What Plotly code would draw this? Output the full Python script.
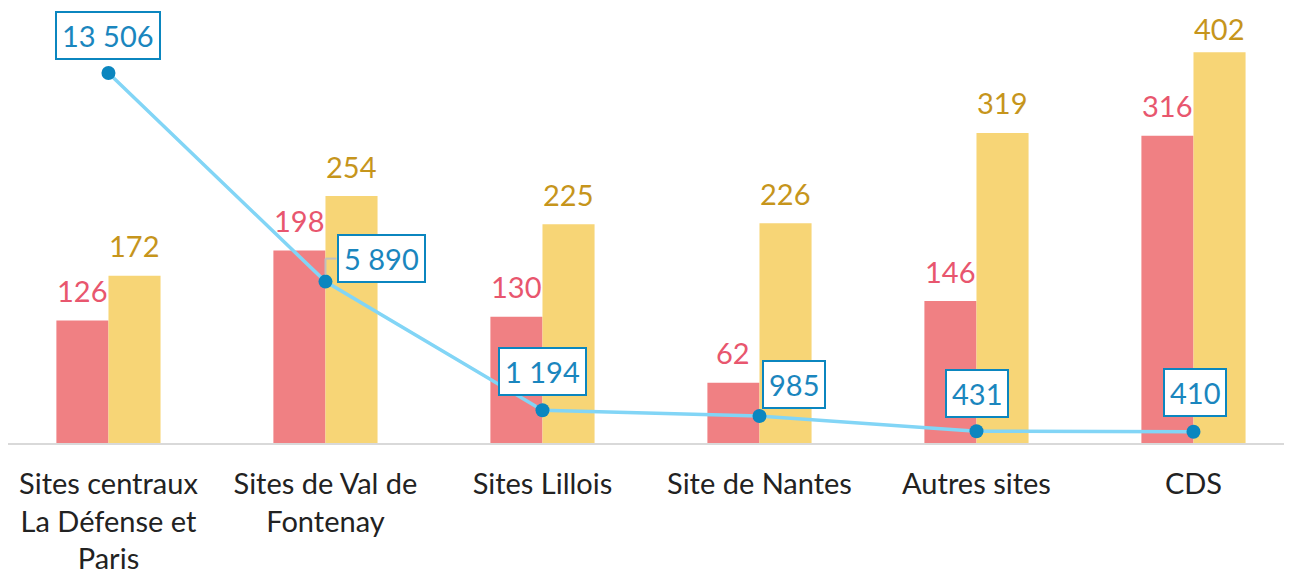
import plotly.graph_objects as go

categories = ["Sites centraux<br>La Défense et<br>Paris", "Sites de Val de<br>Fontenay",
              "Sites Lillois", "Site de Nantes", "Autres sites", "CDS"]
red_values = [126, 198, 130, 62, 146, 316]
yellow_values = [172, 254, 225, 226, 319, 402]
line_values = [13506, 5890, 1194, 985, 431, 410]
line_labels = ["13 506", "5 890", "1 194", "985", "431", "410"]

FONT = "Lato"
RED = "#F08083"
YELLOW = "#F7D576"
RED_TXT = "#E8566E"
YEL_TXT = "#C6951C"
LINE = "#82D5F6"
DOT = "#0B86BF"

Y_MAX = 447.5
Y2_MAX = 15876
PLOT_H = 435.0

fig = go.Figure()
fig.add_trace(go.Bar(x=categories, y=red_values, marker_color=RED, marker_line_width=0, hoverinfo="skip"))
fig.add_trace(go.Bar(x=categories, y=yellow_values, marker_color=YELLOW, marker_line_width=0, hoverinfo="skip"))
fig.add_trace(go.Scatter(x=categories, y=line_values, yaxis="y2", mode="lines+markers",
                         line=dict(color=LINE, width=3.5),
                         marker=dict(color=DOT, size=14), hoverinfo="skip"))

annotations = []
for c, v in zip(categories, red_values):
    annotations.append(dict(x=c, y=v, xref="x", yref="y", text=str(v), showarrow=False,
                            xshift=-26, yshift=30,
                            font=dict(family=FONT, size=29, color=RED_TXT)))
for c, v in zip(categories, yellow_values):
    # keep the label fully inside the page near the top edge
    px_from_top = (Y_MAX - v) * PLOT_H / Y_MAX
    annotations.append(dict(x=c, y=v, xref="x", yref="y", text=str(v), showarrow=False,
                            xshift=26, yshift=min(30, px_from_top - 20),
                            font=dict(family=FONT, size=29, color=YEL_TXT)))
shifts = [(0, 37), (56, 23), (0, 39), (35, 32), (1, 38), (2, 39)]
for c, v, t, (dx, dy) in zip(categories, line_values, line_labels, shifts):
    annotations.append(dict(x=c, y=v, xref="x", yref="y2", text=t, showarrow=False,
                            xshift=dx, yshift=dy, bgcolor="white", bordercolor=DOT,
                            borderwidth=2, borderpad=5,
                            font=dict(family=FONT, size=29, color="#1A86BE")))

# small grey leader line for the "5 890" label
px2 = Y2_MAX / PLOT_H  # data units per pixel on y2
lead_y0 = line_values[1] + 7 * px2
lead_y1 = line_values[1] + 23 * px2
fig.add_shape(type="line", xref="x", yref="y2", x0=1, x1=1, y0=lead_y0, y1=lead_y1,
              line=dict(color="#BFBFBF", width=2))
fig.add_shape(type="line", xref="x", yref="y2", x0=1, x1=1 + 11 / 217, y0=lead_y1, y1=lead_y1,
              line=dict(color="#BFBFBF", width=2))

fig.update_layout(
    width=1284, height=578,
    margin=dict(l=0, r=0, t=0, b=143),
    paper_bgcolor="white", plot_bgcolor="white",
    showlegend=False,
    barmode="group", bargap=0.52, bargroupgap=0,
    font=dict(family=FONT, size=29, color="#222222"),
    xaxis=dict(range=[-0.463, 5.454], showgrid=False, showline=True, linecolor="#D9D9D9",
               linewidth=2, ticks="", ticklabelstandoff=14,
               tickfont=dict(family=FONT, size=29, color="#222222")),
    yaxis=dict(range=[0, Y_MAX], visible=False, showgrid=False, zeroline=False),
    yaxis2=dict(range=[0, Y2_MAX], overlaying="y", visible=False, showgrid=False, zeroline=False),
    annotations=annotations,
)

fig.write_html("out.html")
